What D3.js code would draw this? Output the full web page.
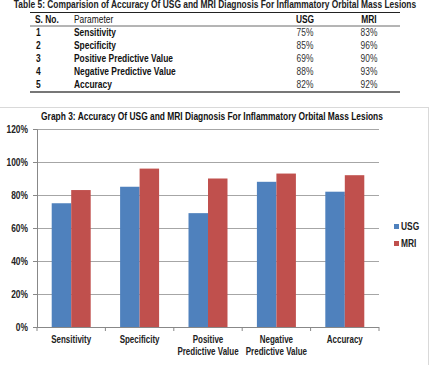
<!DOCTYPE html>
<html>
<head>
<meta charset="utf-8">
<script src="https://cdn.jsdelivr.net/npm/d3@7"></script>
<style>
  body { margin: 0; background: #fff; }
  svg { display: block; font-family: "Liberation Sans", Arial, sans-serif; }
</style>
</head>
<body>
<div id="chart"></div>
<script>
// Table / chart data
const categories = ["Sensitivity", "Specificity", "Positive Predictive Value", "Negative Predictive Value", "Accuracy"];
const axisLabels = [["Sensitivity"], ["Specificity"], ["Positive", "Predictive Value"], ["Negative", "Predictive Value"], ["Accuracy"]];
const seriesNames = ["USG", "MRI"];
const usgValues = [75, 85, 69, 88, 82];
const mriValues = [83, 96, 90, 93, 92];
const yTicks = [0, 20, 40, 60, 80, 100, 120];
const colors = ["#4f81bd", "#c0504d"];

const W = 431, H = 365;
const svg = d3.select("#chart").append("svg")
  .attr("width", W)
  .attr("height", H);

// ---- Table ----
const table = svg.append("g");
table.append("text")
  .attr("x", 215).attr("y", 8)
  .attr("text-anchor", "middle")
  .attr("font-size", 10.5).attr("font-weight", "bold").attr("fill", "#222")
  .text("Table 5: Comparision of Accuracy Of USG and MRI Diagnosis For Inflammatory Orbital Mass Lesions");

const tLeft = 30, tRight = 400;
const rowY = d3.scaleBand().domain(d3.range(6)).range([13, 91]);

table.append("line").attr("x1", tLeft).attr("x2", tRight).attr("y1", 12.5).attr("y2", 12.5)
  .attr("stroke", "#222").attr("stroke-width", 1);
table.append("line").attr("x1", tLeft).attr("x2", tRight).attr("y1", 26).attr("y2", 26)
  .attr("stroke", "#444").attr("stroke-width", 0.8);
table.append("line").attr("x1", tLeft).attr("x2", tRight).attr("y1", 92).attr("y2", 92)
  .attr("stroke", "#777").attr("stroke-width", 2);

const headers = [["S. No.", 35, "start", "bold"], ["Parameter", 74, "start", "normal"], ["USG", 305, "middle", "bold"], ["MRI", 369, "middle", "bold"]];
headers.forEach(h => {
  table.append("text")
    .attr("x", h[1]).attr("y", rowY(0) + rowY.bandwidth() / 2 + 3.8)
    .attr("text-anchor", h[2])
    .attr("font-size", 10.5).attr("font-weight", h[3]).attr("fill", "#111")
    .text(h[0]);
});

categories.forEach((c, i) => {
  const y = rowY(i + 1) + rowY.bandwidth() / 2 + 3.8;
  table.append("text").attr("x", 36).attr("y", y).attr("font-size", 10.5).attr("font-weight", "bold").attr("fill", "#111").text(i + 1);
  table.append("text").attr("x", 74).attr("y", y).attr("font-size", 10.5).attr("font-weight", "bold").attr("fill", "#111").text(c);
  table.append("text").attr("x", 305).attr("y", y).attr("text-anchor", "middle").attr("font-size", 10.5).attr("fill", "#333").text(usgValues[i] + "%");
  table.append("text").attr("x", 369).attr("y", y).attr("text-anchor", "middle").attr("font-size", 10.5).attr("fill", "#333").text(mriValues[i] + "%");
});

// ---- Chart frame ----
svg.append("rect")
  .attr("x", -1).attr("y", 107.5).attr("width", 429.5).attr("height", 270)
  .attr("fill", "none").attr("stroke", "#d9d9d9").attr("stroke-width", 1);

svg.append("text")
  .attr("x", 212).attr("y", 120)
  .attr("text-anchor", "middle")
  .attr("font-size", 10.5).attr("font-weight", "bold").attr("fill", "#111")
  .text("Graph 3: Accuracy Of USG and MRI Diagnosis For Inflammatory Orbital Mass Lesions");

const margin = { top: 129, left: 37, right: 52, bottom: 38 };
const width = W - margin.left - margin.right;
const height = H - margin.top - margin.bottom;
const chart = svg.append("g").attr("transform", `translate(${margin.left},${margin.top})`);

const x = d3.scaleBand().domain(categories).range([0, width]).paddingInner(0.43).paddingOuter(0.215);
const xSub = d3.scaleBand().domain(seriesNames).range([0, x.bandwidth()]);
const y = d3.scaleLinear().domain([0, 120]).range([height, 0]);

// gridlines
chart.append("g")
  .selectAll("line").data(yTicks.filter(t => t > 0)).join("line")
  .attr("x1", 0).attr("x2", width)
  .attr("y1", d => y(d) + 0.5).attr("y2", d => y(d) + 0.5)
  .attr("stroke", "#a6a6a6").attr("stroke-width", 1);

// bars
const rows = categories.map((c, i) => ({ cat: c, vals: [usgValues[i], mriValues[i]] }));
chart.selectAll(".grp").data(rows).join("g")
  .attr("class", "grp")
  .attr("transform", d => `translate(${x(d.cat)},0)`)
  .selectAll("rect").data(d => d.vals.map((v, j) => ({ key: seriesNames[j], v, j })))
  .join("rect")
  .attr("x", d => xSub(d.key))
  .attr("width", xSub.bandwidth())
  .attr("y", d => y(d.v))
  .attr("height", d => height - y(d.v))
  .attr("fill", d => colors[d.j]);

// y axis
const yAxisG = chart.append("g").call(d3.axisLeft(y).tickValues(yTicks).tickFormat(d => d + "%").tickSize(4).tickPadding(5));
yAxisG.select(".domain").attr("stroke", "#888");
yAxisG.selectAll(".tick line").attr("stroke", "#888");
yAxisG.selectAll("text").attr("font-size", 10.5).attr("font-weight", "bold").attr("fill", "#222").attr("font-family", "inherit");

// x axis
const xAxisG = chart.append("g").attr("class", "x-axis").attr("transform", `translate(0,${height})`);
xAxisG.append("line").attr("x1", 0).attr("x2", width).attr("y1", 0.5).attr("y2", 0.5).attr("stroke", "#888");
const step = width / categories.length;
xAxisG.selectAll(".tk").data(d3.range(categories.length + 1)).join("line")
  .attr("x1", d => d * step).attr("x2", d => d * step)
  .attr("y1", 0).attr("y2", 4).attr("stroke", "#888");
xAxisG.selectAll(".lbl").data(categories).join("text")
  .attr("x", d => x(d) + x.bandwidth() / 2)
  .attr("y", 16)
  .attr("text-anchor", "middle")
  .attr("font-size", 10.5).attr("font-weight", "bold").attr("fill", "#222")
  .selectAll("tspan").data((d, i) => axisLabels[i]).join("tspan")
  .attr("x", function () { return d3.select(this.parentNode).attr("x"); })
  .attr("dy", (d, i) => i === 0 ? 0 : 11.5)
  .text(d => d);

// legend
const legend = svg.append("g").attr("transform", "translate(394,224)");
seriesNames.forEach((s, i) => {
  legend.append("rect").attr("x", 0).attr("y", i * 17).attr("width", 5).attr("height", 5).attr("fill", colors[i]);
  legend.append("text").attr("x", 7).attr("y", i * 17 + 6).attr("font-size", 10.5).attr("font-weight", "bold").attr("fill", "#222").text(s);
});

// condense all text horizontally (the source uses a narrow face)
svg.selectAll("text").each(function () {
  const el = d3.select(this);
  const squeeze = this.closest(".x-axis") ? 0.76 : 0.8;
  const spans = el.selectAll("tspan");
  const nodes = spans.empty() ? [this] : spans.nodes();
  nodes.forEach(n => {
    const len = n.getComputedTextLength();
    d3.select(n).attr("textLength", len * squeeze).attr("lengthAdjust", "spacingAndGlyphs");
  });
});
</script>
</body>
</html>
